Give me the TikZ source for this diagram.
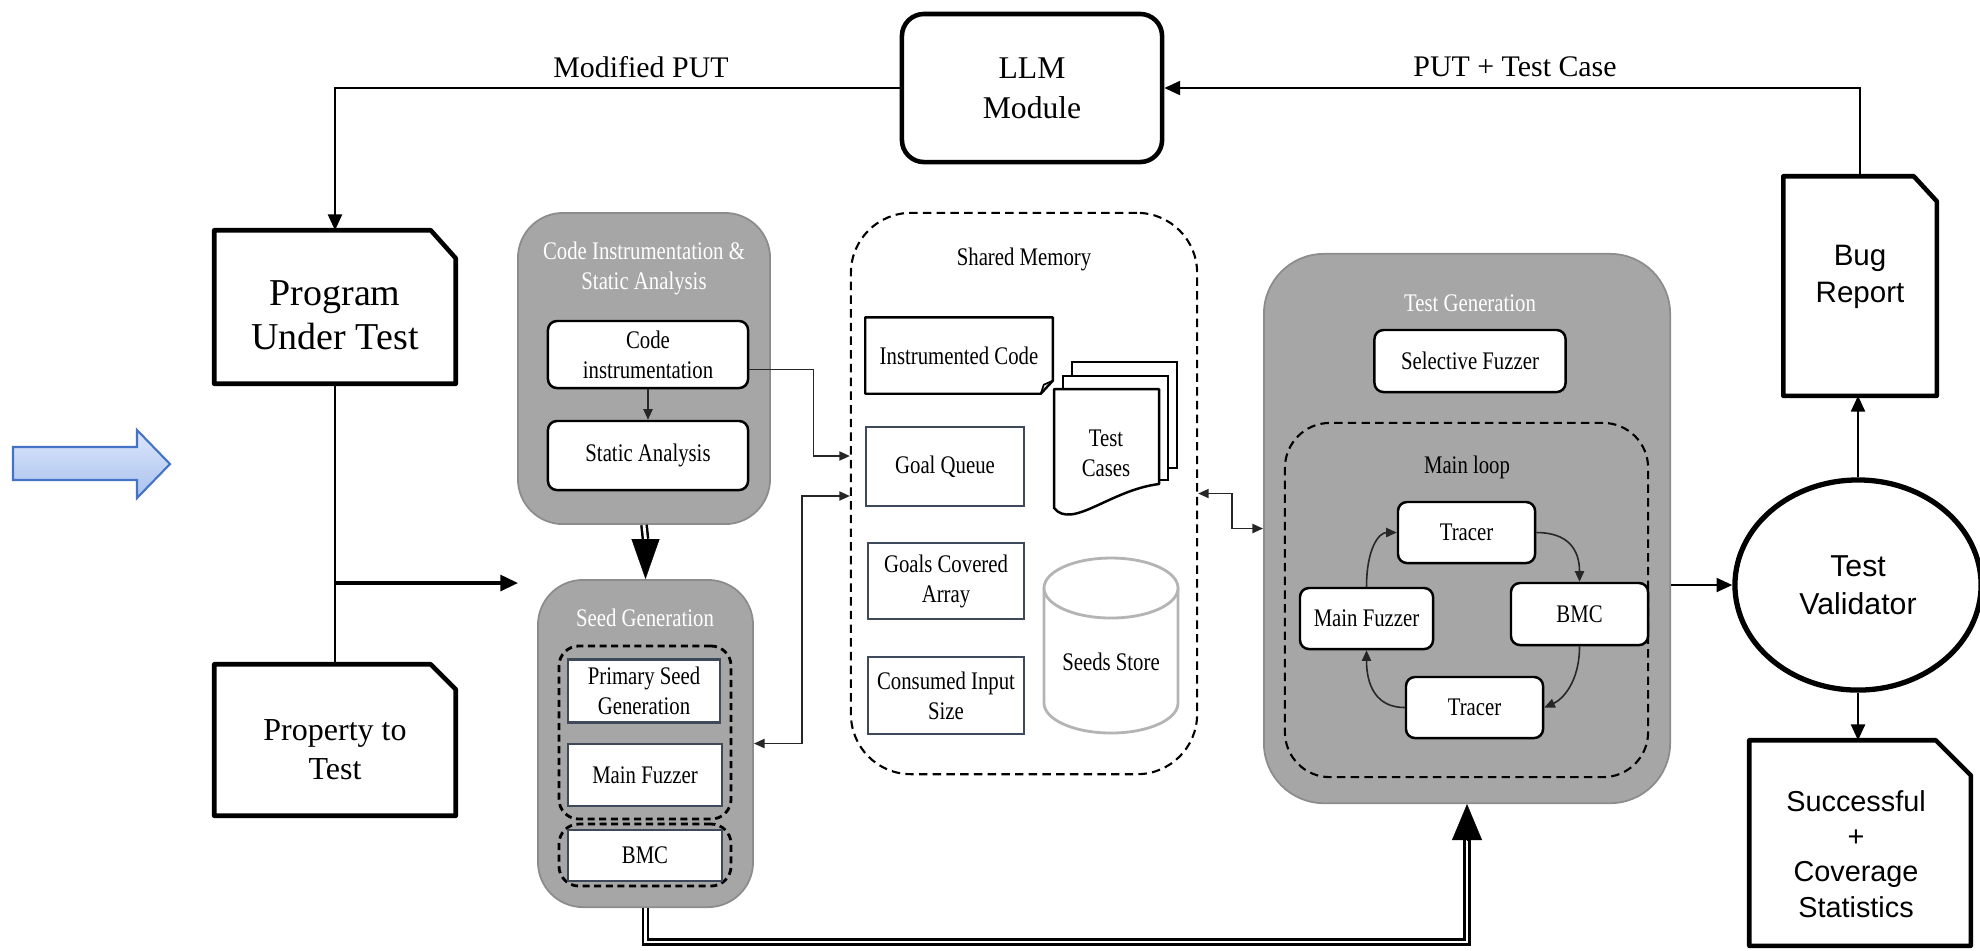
\documentclass[tikz,border=0pt]{standalone}
\usepackage{fontspec}
\setmainfont{Liberation Serif}
\newfontfamily\cnd[FakeStretch=0.82]{Liberation Serif}
\newfontfamily\arial{Liberation Sans}
\usetikzlibrary{arrows.meta,shapes.geometric,calc}
\newcommand\myfs[2]{\fontsize{#1}{#2}\selectfont}
\definecolor{gfill}{HTML}{A6A6A6}
\definecolor{gline}{HTML}{8C8C8C}
\definecolor{slate}{HTML}{3E4A59}
\definecolor{cyl}{HTML}{B4B4B4}
\definecolor{blueline}{HTML}{4472C4}
\definecolor{bluetop}{HTML}{DCE6FA}
\definecolor{bluebot}{HTML}{A9C2EF}
\begin{document}
\begin{tikzpicture}[x=0.01cm,y=-0.01cm,
  bold/.style={line width=1.3pt, line join=round},
  conn/.style={line width=0.6pt, -{Triangle[length=4.5pt,width=4pt]}},
  plain/.style={line width=0.6pt},
  thinc/.style={line width=0.45pt, draw=black!85, -{Triangle[length=3pt,width=2.6pt]}},
  thinb/.style={line width=0.45pt, draw=black!85, {Triangle[length=3pt,width=2.6pt]}-{Triangle[length=3pt,width=2.6pt]}},
  graybox/.style={draw=gline, fill=gfill, line width=0.5pt, rounded corners=0.45cm, inner sep=0pt},
  lbl/.style={font=\cnd\myfs{7.2}{8.5}, align=center, inner sep=0pt},
  title/.style={lbl, text=white},
  wbox/.style={lbl, draw=black, fill=white, line width=0.7pt, rounded corners=0.09cm},
  sbox/.style={lbl, draw=slate, fill=white, line width=0.7pt},
  grpdash/.style={draw=black, line width=0.8pt, dash pattern=on 2pt off 1.3pt, rounded corners=0.2cm, inner sep=0pt},
  bigdash/.style={draw=black, line width=0.6pt, dash pattern=on 2.4pt off 1.5pt, inner sep=0pt},
  dbl/.style={double, double distance=0.8pt, line width=0.7pt},
  toplbl/.style={font=\myfs{8.5}{10}, inner sep=0pt},
  docbox/.style={inner sep=0pt}
  ]
\useasboundingbox (0,0) rectangle (1980,950);

% blue arrow
\path[draw=blueline, line width=0.6pt, top color=bluetop, bottom color=bluebot, line join=miter]
  (13,447) -- (137,447) -- (137,430) -- (170,464) -- (137,498) -- (137,480) -- (13,480) -- cycle;

% Program Under Test
\node[docbox, minimum width=2.40cm, minimum height=1.52cm] (put) at (335,307) {};
\draw[bold] (put.south west) -- (put.north west) -- ([xshift=-0.25cm]put.north east) -- ([yshift=-0.28cm]put.north east) -- (put.south east) -- cycle;
\node[font=\myfs{10.8}{12.5}, align=center] (putT) at (335,315) {Program\\Under Test};

% Property to Test
\node[docbox, minimum width=2.40cm, minimum height=1.50cm] (prop) at (335,740) {};
\draw[bold] (prop.south west) -- (prop.north west) -- ([xshift=-0.25cm]prop.north east) -- ([yshift=-0.25cm]prop.north east) -- (prop.south east) -- cycle;
\node[font=\myfs{9.1}{11.1}, align=center] (propT) at (335,750) {Property to\\Test};

% LLM Module
\node[draw, bold, rounded corners=0.22cm, minimum width=2.60cm, minimum height=1.48cm, font=\myfs{9}{11.4}, align=center] (llm) at (1032,88) {LLM\\Module};

% Bug Report
\node[docbox, minimum width=1.52cm, minimum height=2.18cm] (bug) at (1860,286) {};
\draw[bold] (bug.south west) -- (bug.north west) -- ([xshift=-0.23cm]bug.north east) -- ([yshift=-0.25cm]bug.north east) -- (bug.south east) -- cycle;
\node[font=\arial\myfs{8.4}{10.5}, align=center] (bugT) at (1860,277) {Bug\\Report};

% Test Validator
\node[ellipse, draw, line width=1.5pt, minimum width=2.46cm, minimum height=2.10cm, font=\arial\myfs{8.6}{10.8}, align=center] (tv) at (1858,585) {Test\\Validator};

% Successful + Coverage Statistics
\node[docbox, minimum width=2.20cm, minimum height=2.04cm] (succ) at (1860,843) {};
\draw[bold] (succ.south west) -- (succ.north west) -- ([xshift=-0.35cm]succ.north east) -- ([yshift=-0.35cm]succ.north east) -- (succ.south east) -- cycle;
\node[font=\arial\myfs{8.2}{10}, align=center] (succT) at (1856,854) {Successful\\+\\Coverage\\Statistics};

% Code Instrumentation & Static Analysis
\node[graybox, minimum width=2.52cm, minimum height=3.11cm] (cisa) at (644,368.5) {};
\node[title] (cisaT) at (644,268) {Code Instrumentation \&\\Static Analysis};
\node[wbox, minimum width=2.00cm, minimum height=0.67cm] (ci) at (648,354.5) {Code\\instrumentation};
\node[wbox, minimum width=2.00cm, minimum height=0.69cm] (sa) at (648,455.5) {Static Analysis};

% Seed Generation
\node[graybox, minimum width=2.15cm, minimum height=3.27cm] (seed) at (645.5,743.5) {};
\node[title] (seedT) at (645,618) {Seed Generation};
\node[grpdash, minimum width=1.72cm, minimum height=1.73cm] (g1) at (645,732.5) {};
\node[grpdash, minimum width=1.72cm, minimum height=0.62cm] (g2) at (645,855) {};
\node[sbox, minimum width=1.52cm, minimum height=0.63cm] (pseed) at (644,691) {Primary Seed\\Generation};
\node[sbox, minimum width=1.54cm, minimum height=0.62cm] (mfz1) at (645,775) {Main Fuzzer};
\node[sbox, minimum width=1.54cm, minimum height=0.51cm] (bmc1) at (645,855.5) {BMC};

% Shared Memory
\node[bigdash, rounded corners=0.6cm, minimum width=3.46cm, minimum height=5.61cm] (sm) at (1024,493.5) {};
\node[lbl] (smT) at (1024,259) {Shared Memory};
\node[lbl, minimum width=1.86cm, minimum height=0.75cm] (ic) at (959,355.5) {Instrumented Code};
\draw[line width=0.7pt, line join=round] (ic.north west) -- (ic.north east) -- ([yshift=0.13cm]ic.south east) -- ([xshift=-0.12cm]ic.south east) -- (ic.south west) -- cycle;
\draw[line width=0.5pt] ([xshift=-0.12cm]ic.south east) -- ([xshift=-0.09cm,yshift=0.09cm]ic.south east) -- ([yshift=0.13cm]ic.south east);
\node[sbox, minimum width=1.58cm, minimum height=0.79cm] (gq) at (945,466.5) {Goal Queue};
\node[sbox, minimum width=1.56cm, minimum height=0.76cm] (gca) at (946,581) {Goals Covered\\Array};
\node[sbox, minimum width=1.56cm, minimum height=0.77cm] (cis) at (946,695.5) {Consumed Input\\Size};
% Test cases (stacked documents)
\draw[line width=0.7pt, fill=white] (1072,362) rectangle (1177,468);
\draw[line width=0.7pt, fill=white] (1063,376) rectangle (1168,480);
\draw[line width=0.7pt, fill=white, line join=round] (1054,389) -- (1159,389) -- (1159,484) .. controls (1110,490) and (1072,530) .. (1054,508) -- cycle;
\node[lbl] (tc) at (1106,453) {Test\\Cases};
% Seeds store cylinder
\draw[cyl, line width=0.8pt, fill=white] (1044,588) -- (1044,703) arc[start angle=180, end angle=0, x radius=67, y radius=30] -- (1178,588);
\draw[cyl, line width=0.8pt, fill=white] (1111,588) ellipse [x radius=67, y radius=30];
\node[lbl] (ss) at (1111,662) {Seeds Store};

% Test Generation
\node[graybox, rounded corners=0.6cm, minimum width=4.06cm, minimum height=5.49cm] (tg) at (1467,528.5) {};
\node[title] (tgT) at (1470,303) {Test Generation};
\node[wbox, minimum width=1.91cm, minimum height=0.62cm] (sf) at (1470,361) {Selective Fuzzer};
\node[bigdash, rounded corners=0.45cm, minimum width=3.63cm, minimum height=3.54cm] (ml) at (1466.5,600) {};
\node[lbl] (mlT) at (1467,467) {Main loop};
\node[wbox, minimum width=1.37cm, minimum height=0.61cm] (tr1) at (1466.5,532.5) {Tracer};
\node[wbox, minimum width=1.37cm, minimum height=0.62cm] (bmc2) at (1579.5,614) {BMC};
\node[wbox, minimum width=1.33cm, minimum height=0.61cm] (mf2) at (1366.5,618.5) {Main Fuzzer};
\node[wbox, minimum width=1.37cm, minimum height=0.61cm] (tr2) at (1474.5,707.5) {Tracer};

% loop arrows
\draw[thinc] (mf2.north) .. controls +(0,-38) and +(-18,0) .. (tr1.west);
\draw[thinc] (tr1.east) .. controls +(32,0) and +(0,-32) .. (bmc2.north);
\draw[thinc] (bmc2.south) .. controls +(0,36) and +(18,-8) .. (tr2.east);
\draw[thinc] (tr2.west) .. controls +(-28,0) and +(0,36) .. (mf2.south);

% connectors
\draw[conn] (llm.west) -| (put.north);
\node[toplbl] (modT) at (641,67) {Modified PUT};
\draw[conn] (bug.north) |- (llm.east);
\node[toplbl] (ptcT) at (1515,67) {PUT + Test Case};

\draw[plain] (put.south) -- (prop.north);
\coordinate (branch) at (335,583);
\coordinate (brEnd) at (518,583);
\draw[line width=0.9pt, -{Triangle[length=5pt,width=4.5pt]}] (branch) -- (brEnd);

\draw[thinc] (ci) -- (sa);
\draw[thinc] ([yshift=-0.15cm]ci.east) -- ++(64,0) |- ([yshift=0.375cm]sm.west);
\draw[thinb] ([yshift=-0.025cm]sm.west) -- ++(-48,0) |- (seed.east);
\draw[thinb] (sm.east) -- ++(34,0) |- (tg.west);

% double-line arrows
\draw[dbl] (cisa.south) -- ([yshift=0.40cm]seed.north);
\draw[line width=0.1pt, -{Triangle[length=0.40cm,width=0.28cm]}] ([yshift=0.40cm]seed.north) -- (seed.north);
\draw[dbl] (seed.south) -- (645.5,942) -| ([yshift=-0.36cm]tg.south);
\draw[line width=0.1pt, -{Triangle[length=0.36cm,width=0.30cm]}] ([yshift=-0.36cm]tg.south) -- (tg.south);

% right side
\draw[conn] (tg.east |- tv.west) -- (tv.west);
\draw[conn] (tv.north) -- (tv.north |- bug.south);
\draw[conn] (tv.south) -- (tv.south |- succ.north);
\end{tikzpicture}
\end{document}
